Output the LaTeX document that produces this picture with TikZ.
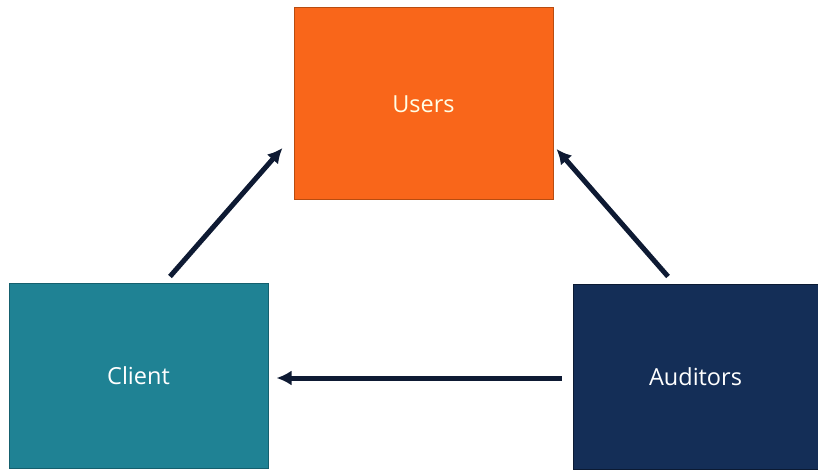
\documentclass[tikz,border=0pt]{standalone}
\usepackage{fontspec}
\setmainfont{Open Sans}
\usetikzlibrary{arrows.meta}

\definecolor{usersfill}{HTML}{F9661A}
\definecolor{usersline}{HTML}{B84C10}
\definecolor{clientfill}{HTML}{1F8294}
\definecolor{clientline}{HTML}{15606E}
\definecolor{auditfill}{HTML}{142E57}
\definecolor{auditline}{HTML}{0B1A33}
\definecolor{arrowcol}{HTML}{0E1A33}

\tikzset{
  block/.style={rectangle, draw, line width=1pt, inner sep=0pt,
    font=\fontsize{23.5}{28}\selectfont, text=white},
  flow/.style={draw=arrowcol, line width=5pt,
    -{Latex[length=15pt,width=15pt]}},
}

\begin{document}
\begin{tikzpicture}[x=1pt,y=-1pt]
  \useasboundingbox (0,0) rectangle (818,470);
  \fill[white] (0,0) rectangle (818,470);

  % the three parties
  \node[block, fill=usersfill, draw=usersline, text=white!90!yellow,
        minimum width=259pt, minimum height=192pt] (users) at (423.5,104) {Users};
  \node[block, fill=clientfill, draw=clientline,
        minimum width=259pt, minimum height=185pt] (client) at (138.5,375.5) {Client};
  \node[block, fill=auditfill, draw=auditline,
        minimum width=245pt, minimum height=185pt] (auditors) at (695.5,376.5) {Auditors};

  % relations
  \draw[flow] ([shift={(31.5,-6)}]client.north) -- ([shift={(-11,44)}]users.west);
  \draw[flow] ([shift={(-27.5,-7)}]auditors.north) -- ([shift={(3,45)}]users.east);
  \draw[flow] ([shift={(-11,1.5)}]auditors.west) -- ([shift={(8,2.5)}]client.east);
\end{tikzpicture}
\end{document}
